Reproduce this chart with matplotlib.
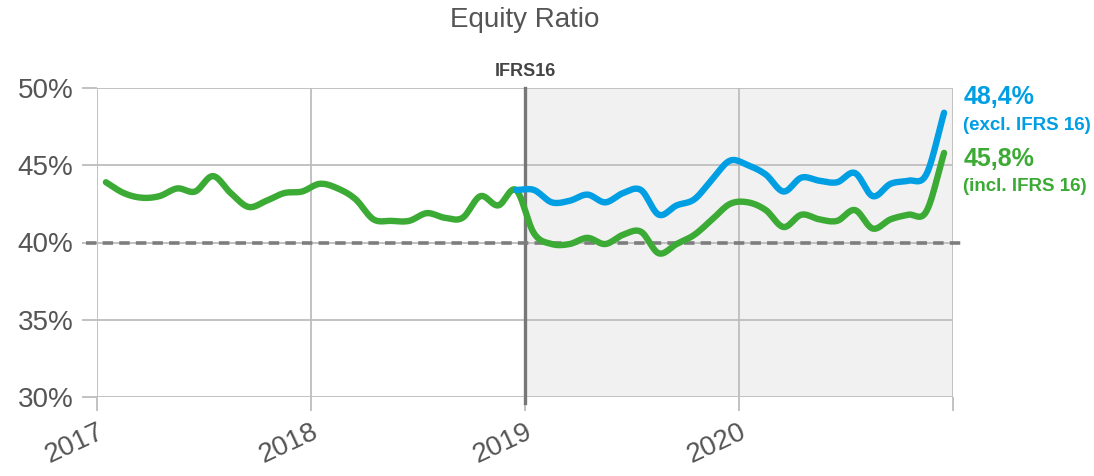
import numpy as np
import matplotlib.pyplot as plt

# monthly equity ratio, Jan 2017 .. Dec 2020 (in %)
incl_ifrs16 = [43.9, 43.2, 42.9, 43.0, 43.5, 43.3, 44.3, 43.2, 42.3, 42.7, 43.2, 43.3,
               43.8, 43.5, 42.8, 41.5, 41.4, 41.4, 41.9, 41.6, 41.6, 43.0, 42.4, 43.4,
               40.6, 39.9, 39.9, 40.3, 39.9, 40.5, 40.7, 39.3, 39.9, 40.5, 41.5, 42.5,
               42.6, 42.1, 41.0, 41.8, 41.5, 41.4, 42.1, 40.9, 41.5, 41.8, 42.0, 45.8]
# excl. IFRS 16, Dec 2018 .. Dec 2020
excl_ifrs16 = [43.4, 43.4, 42.6, 42.7, 43.1, 42.6, 43.2, 43.4, 41.8, 42.4, 42.8, 44.1,
               45.3, 45.0, 44.4, 43.3, 44.2, 44.0, 43.9, 44.5, 43.0, 43.8, 44.0, 44.4, 48.4]
years = [2017, 2018, 2019, 2020, 2021]
year_labels = ['2017', '2018', '2019', '2020']
yticks = [30, 35, 40, 45, 50]
threshold = 40
ifrs_start = 2019

BLUE = '#009fe3'
GREEN = '#3cab35'
GREY_TXT = '#555555'


def smooth(x, y, n=12):
    # catmull-rom curve through the points (like excel "smoothed line")
    x = np.asarray(x, float)
    y = np.asarray(y, float)
    px = np.concatenate([[2 * x[0] - x[1]], x, [2 * x[-1] - x[-2]]])
    py = np.concatenate([[2 * y[0] - y[1]], y, [2 * y[-1] - y[-2]]])
    t = np.linspace(0, 1, n, endpoint=False)
    xs, ys = [], []
    for i in range(1, len(px) - 2):
        for p, out in ((px, xs), (py, ys)):
            p0, p1, p2, p3 = p[i - 1], p[i], p[i + 1], p[i + 2]
            out.extend(0.5 * (2 * p1 + (-p0 + p2) * t + (2 * p0 - 5 * p1 + 4 * p2 - p3) * t ** 2
                              + (-p0 + 3 * p1 - 3 * p2 + p3) * t ** 3))
    xs.append(x[-1])
    ys.append(y[-1])
    return np.array(xs), np.array(ys)


months = np.arange(len(incl_ifrs16))
x_all = 2017 + (months + 0.5) / 12
x_excl = x_all[len(incl_ifrs16) - len(excl_ifrs16):]

plt.rcParams['font.family'] = ['Liberation Sans', 'DejaVu Sans']

fig = plt.figure(figsize=(10.94, 4.76), dpi=100)
ax = fig.add_axes([97 / 1094, 79 / 476, 856 / 1094, 309 / 476])

ax.set_xlim(2017, 2021)
ax.set_ylim(30, 50)

# shaded IFRS16 period
ax.axvspan(ifrs_start, 2021, color='#f1f1f1', zorder=0)

# grid
for yv in yticks:
    ax.axhline(yv, color='#bdbdbd', lw=1.3, zorder=1)
for xv in years:
    ax.axvline(xv, color='#bdbdbd', lw=1.3, zorder=1)

# 40% dashed line
ax.plot([2016.95, 2021.04], [threshold, threshold], color='#7d7d7d', lw=2.6,
        dashes=(2.9, 1.7), clip_on=False, zorder=3)

# IFRS16 marker
ax.plot([ifrs_start, ifrs_start], [29.6, 50], color='#777777', lw=2.4, clip_on=False, zorder=2)
ax.text(ifrs_start, 50.55, 'IFRS16', ha='center', va='bottom', fontsize=13,
        fontweight='bold', color='#444444')

sx, sy = smooth(x_all, incl_ifrs16)
ax.plot(sx, sy, color=GREEN, lw=4.6, solid_capstyle='round', solid_joinstyle='round', zorder=4)
sx, sy = smooth(x_excl, excl_ifrs16)
ax.plot(sx, sy, color=BLUE, lw=4.6, solid_capstyle='round', solid_joinstyle='round', zorder=5)

for s in ax.spines.values():
    s.set_visible(False)

ax.set_yticks(yticks)
ax.set_yticklabels([f'{v}%' for v in yticks], fontsize=20, color=GREY_TXT)
ax.set_xticks(years)
ax.set_xticklabels(year_labels + [''], fontsize=20, color=GREY_TXT, rotation=25,
                   ha='right', rotation_mode='anchor')
ax.tick_params(axis='y', length=11, width=1.3, color='#bdbdbd', pad=6)
ax.tick_params(axis='x', length=10, width=1.3, color='#bdbdbd', pad=6)

ax.set_title('Equity Ratio', fontsize=20, color=GREY_TXT, pad=44)

# end value labels
trans = ax.get_yaxis_transform()
ax.text(1.012, excl_ifrs16[-1] + 1.0, '48,4%', transform=trans, fontsize=18,
        fontweight='bold', color=BLUE, va='center', ha='left', clip_on=False)
ax.text(1.012, excl_ifrs16[-1] - 0.8, '(excl. IFRS 16)', transform=trans, fontsize=13.5,
        fontweight='bold', color=BLUE, va='center', ha='left', clip_on=False)
ax.text(1.012, incl_ifrs16[-1] - 0.4, '45,8%', transform=trans, fontsize=18,
        fontweight='bold', color=GREEN, va='center', ha='left', clip_on=False)
ax.text(1.012, incl_ifrs16[-1] - 2.2, '(incl. IFRS 16)', transform=trans, fontsize=13.5,
        fontweight='bold', color=GREEN, va='center', ha='left', clip_on=False)

fig.savefig('out.png', dpi=100)
